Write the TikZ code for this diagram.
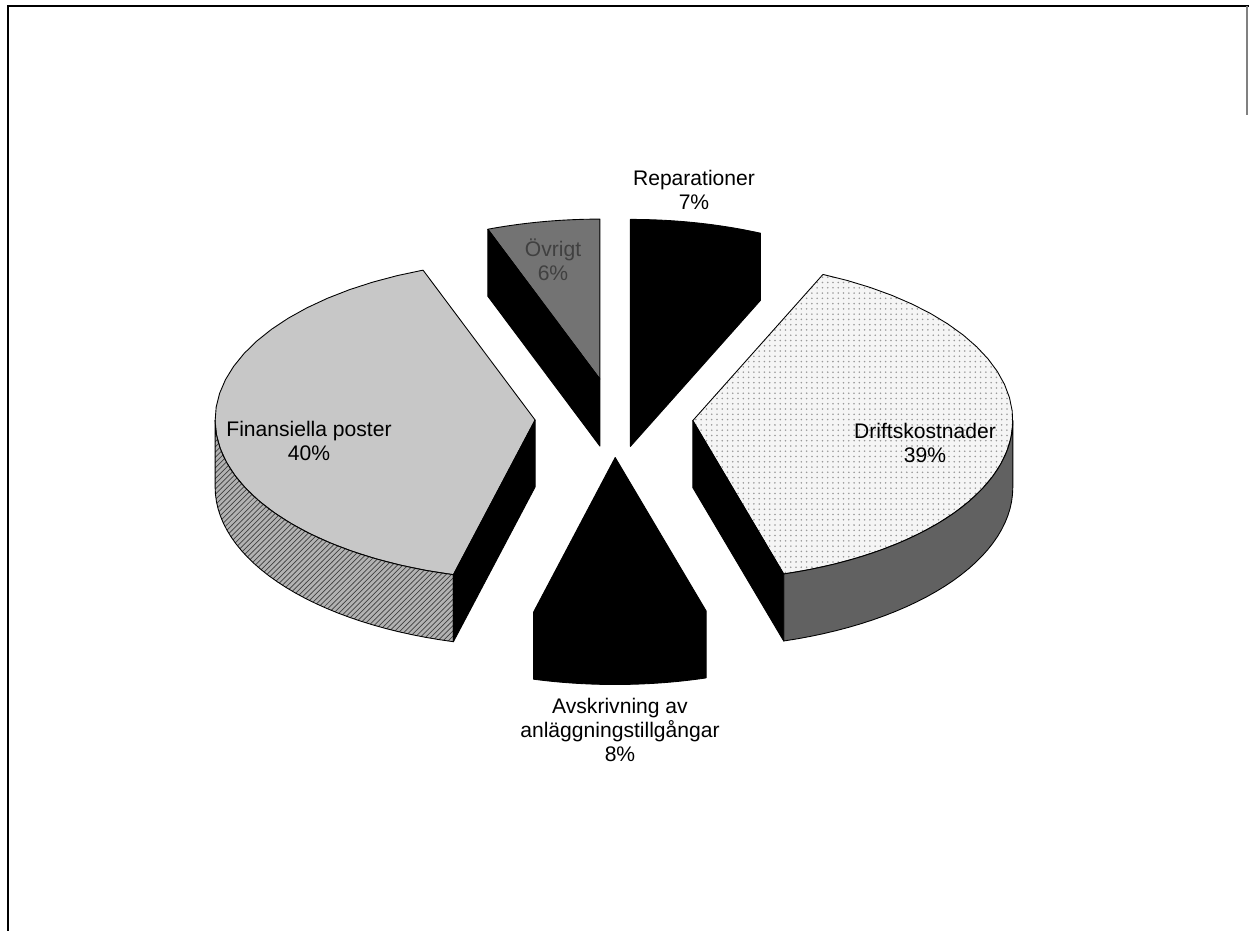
\documentclass[tikz,border=0pt]{standalone}
\usepackage{fontspec}
\setmainfont{Liberation Sans}
\usetikzlibrary{patterns}
% rim of a slice: line on along the elliptic arc round (#1,#2) from angle #3 to #4
\def\rim(#1,#2)(#3:#4){-- plot[domain=#3:#4,samples=30,variable=\t] ({#1+320*cos(\t)},{#2-160*sin(\t)})}
\tikzset{
  slice/.style={draw=black, line width=0.5pt, line join=round},
  darkface/.style={slice, fill=black},
  fintop/.style={slice, fill=black!22},
  finside/.style={slice, preaction={fill=black!30}, pattern=north east lines, pattern color=black!75},
  drifttop/.style={slice, preaction={fill=black!4}, pattern=dots, pattern color=black!40},
  driftside/.style={slice, fill=black!62},
  ovrtop/.style={slice, fill=black!55},
  pielabel/.style={align=center, inner sep=0pt, font=\fontsize{12}{13.8}\selectfont}
}

\begin{document}
\begin{tikzpicture}[x=0.2mm, y=-0.2mm]
			%%%%% START %%%%%
			\useasboundingbox (0,0) rectangle (1249,931);
			
			\draw[line width=1.2pt] (8,931) -- (8,6) -- (1249,6);
			\draw[black!50, line width=0.8pt] (1247,6) -- (1247,115);
			
			% Reparationer
			\draw[darkface] (630.4,446.4) -- (630.4,219.4) \rim(630.4,379.4)(90:66) -- ++(0,67) -- cycle;
			
			% Ovrigt
			\draw[ovrtop] (599.9,379.1) \rim(599.9,379.1)(90:110.5) -- cycle;
			\draw[darkface] (599.9,379.1) -- (487.8,229.2) -- ++(0,67) -- (599.9,446.1) -- cycle;
			
			% Finansiella poster
			\draw[fintop] (535.1,420) \rim(535.1,420)(110.5:255.2) -- cycle;
			\draw[finside] (215.1,420) \rim(535.1,420)(180:255.2) \rim(535.1,487)(255.2:180) -- cycle;
			\draw[darkface] (535.1,420) -- (453.4,574.7) -- ++(0,67) -- (535.1,487) -- cycle;
			
			% Driftskostnader
			\draw[drifttop] (692.8,420.6) \rim(692.8,420.6)(-73.5:66) -- cycle;
			\draw[driftside] (783.7,574.0) \rim(692.8,420.6)(-73.5:0) \rim(692.8,487.6)(0:-73.5) -- cycle;
			\draw[darkface] (692.8,420.6) -- (783.7,574.0) -- ++(0,67) -- (692.8,487.6) -- cycle;
			
			% Avskrivning
			\draw[darkface] (615.2,457.5) -- (533.5,612.2) \rim(615.2,524.5)(-104.8:-73.5) -- (706.1,610.9) -- cycle;
			
			\node[pielabel] (rep) at (694,190) {Reparationer\\7\%};
			\node[pielabel, text=black!75] (ovr) at (553,260) {Övrigt\\6\%};
			\node[pielabel] (fin) at (309,441) {Finansiella poster\\40\%};
			\node[pielabel] (drift) at (925,443) {Driftskostnader\\39\%};
			\node[pielabel] (avs) at (620,730) {Avskrivning av\\anläggningstillgångar\\8\%};
			
			%%%%% END %%%%%
\end{tikzpicture}
\end{document}
